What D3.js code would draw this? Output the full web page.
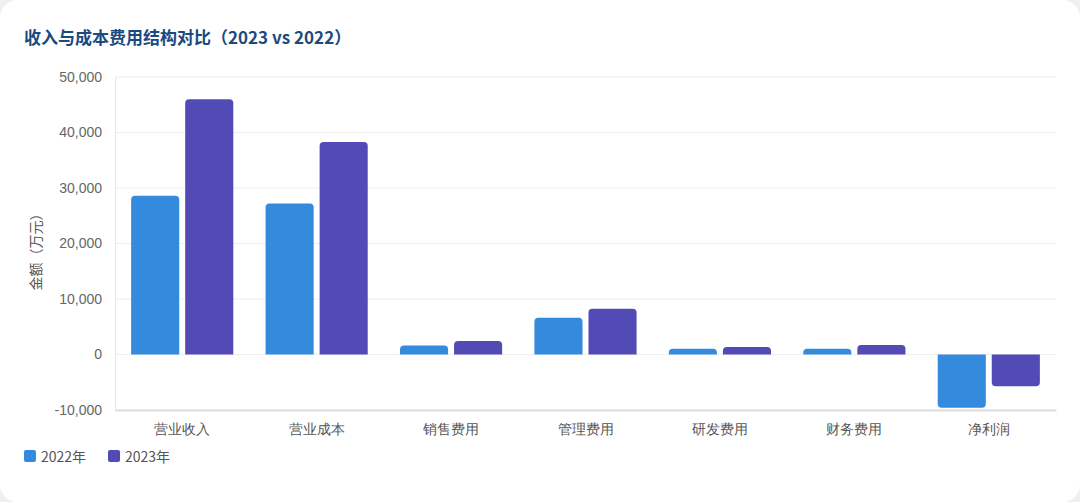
<!DOCTYPE html>
<html>
<head>
<meta charset="utf-8">
<script src="https://cdn.jsdelivr.net/npm/d3@7"></script>
<style>
    html, body { margin: 0; padding: 0; background: #eef0f3; }
    #card {
        position: absolute; left: 0; top: 0; width: 1080px; height: 502px;
        background: #fff; border-radius: 18px; overflow: hidden;
    }
    svg { display: block; font-family: "Noto Sans CJK SC", "Noto Sans", sans-serif; }
</style>
</head>
<body>
<div id="card"></div>
<script>
// Categories and series values (万元)
var categories = ["营业收入", "营业成本", "销售费用", "管理费用", "研发费用", "财务费用", "净利润"];
var seriesNames = ["2022年", "2023年"];
var values2022 = [28600, 27200, 1600, 6600, 1050, 1050, -9600];
var values2023 = [46000, 38300, 2450, 8250, 1350, 1700, -5700];
var yTicks = [-10000, 0, 10000, 20000, 30000, 40000, 50000];
var colors = ["#348bdd", "#524bb5"];

var width = 1080, height = 502;
var margin = {top: 77, right: 24, bottom: 92, left: 115};
var w = width - margin.left - margin.right;
var h = height - margin.top - margin.bottom;

var svg = d3.select("#card").append("svg")
    .attr("width", width)
    .attr("height", height);

// Title
svg.append("text")
    .attr("x", 24).attr("y", 44)
    .attr("font-size", 17).attr("font-weight", "bold")
    .attr("fill", "#1b4a80")
    .text("收入与成本费用结构对比（2023 vs 2022）");

var g = svg.append("g")
    .attr("transform", "translate(" + margin.left + "," + margin.top + ")");

var x0 = d3.scaleBand().domain(categories).range([0, w]).paddingInner(0.24).paddingOuter(0.12);
var x1 = d3.scaleBand().domain(seriesNames).range([0, x0.bandwidth()]).paddingInner(0.11);
var y = d3.scaleLinear().domain([-10000, 50000]).range([h, 0]);

// Gridlines
g.append("g")
    .selectAll("line")
    .data(yTicks)
    .enter().append("line")
    .attr("x1", 0).attr("x2", w)
    .attr("y1", d => y(d)).attr("y2", d => y(d))
    .attr("stroke", "#eeeeee");

// Y axis (plain hyphen for negatives)
var comma = d3.format(",");
var yAxis = d3.axisLeft(y).tickValues(yTicks).tickSize(0).tickPadding(13)
    .tickFormat(d => comma(d).replace("−", "-"));
var ya = g.append("g").call(yAxis);
ya.select(".domain").attr("stroke", "#e6e6e6");
ya.selectAll("text").attr("font-size", 14).attr("fill", "#666")
    .attr("font-family", "'Liberation Sans', Arial, sans-serif");

// X axis
var xAxis = d3.axisBottom(x0).tickSize(0).tickPadding(14);
var xa = g.append("g").attr("transform", "translate(0," + h + ")").call(xAxis);
xa.select(".domain").attr("stroke", "#dddddd").attr("stroke-width", 2);
xa.selectAll("text").attr("font-size", 14).attr("fill", "#555");

// Y axis title
svg.append("text")
    .attr("transform", "translate(41," + (margin.top + y(20000) + 5) + ") rotate(-90)")
    .attr("text-anchor", "middle")
    .attr("font-size", 14).attr("fill", "#555")
    .text("金额（万元）");

// Bar path with rounded outer corners
function barPath(x, bw, v) {
    var r = 4;
    var y0 = y(0), y1 = y(v);
    var hgt = Math.abs(y0 - y1);
    r = Math.min(r, hgt, bw / 2);
    var s = v >= 0 ? 1 : -1;
    return "M" + x + "," + y0 + "V" + (y1 + s * r) + "Q" + x + "," + y1 + " " + (x + r) + "," + y1 +
        "H" + (x + bw - r) + "Q" + (x + bw) + "," + y1 + " " + (x + bw) + "," + (y1 + s * r) + "V" + y0 + "Z";
}

var allSeries = [values2022, values2023];
allSeries.forEach(function(vals, si) {
    g.append("g").selectAll("path")
        .data(vals)
        .enter().append("path")
        .attr("d", (d, i) => barPath(x0(categories[i]) + x1(seriesNames[si]), x1.bandwidth(), d))
        .attr("fill", colors[si]);
});

// Legend
var legend = svg.append("g").attr("transform", "translate(24,450)");
var lx = [0, 84];
seriesNames.forEach(function(name, i) {
    var item = legend.append("g").attr("transform", "translate(" + lx[i] + ",0)");
    item.append("rect").attr("width", 12).attr("height", 12).attr("rx", 2).attr("fill", colors[i]);
    item.append("text").attr("x", 17).attr("y", 11.5)
        .attr("font-size", 14).attr("fill", "#555").text(name);
});
</script>
</body>
</html>
